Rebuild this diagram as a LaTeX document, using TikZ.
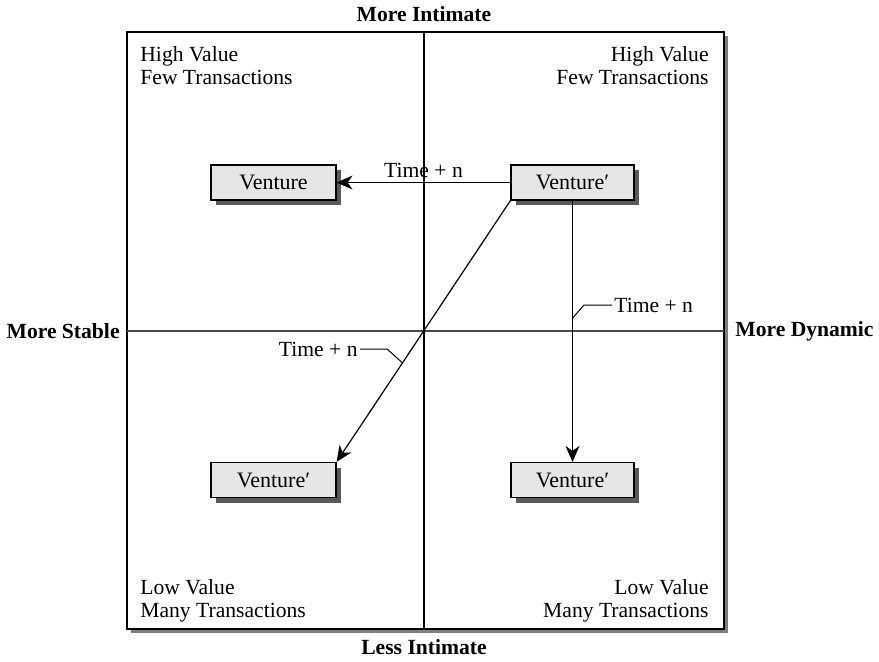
\documentclass[tikz,border=0pt]{standalone}
\usepackage{fontspec}
\setmainfont{Liberation Serif}
\usetikzlibrary{arrows.meta,calc,shadows}

\definecolor{boxfill}{HTML}{E6E6E6}
\definecolor{boxshadow}{HTML}{5A5A5A}
\definecolor{frameshadow}{HTML}{7F7F7F}
\definecolor{axisgray}{HTML}{4A4A4A}

\tikzset{
  venture/.style={draw=black, line width=0.6pt, fill=boxfill,
    minimum height=17.5pt, inner sep=0pt,
    font=\fontsize{11}{13}\selectfont,
    drop shadow={shadow xshift=2.5pt, shadow yshift=-2.5pt,
      fill=boxshadow, opacity=1}},
  axislabel/.style={font=\bfseries\fontsize{10.8}{13}\selectfont, inner sep=0pt},
  quadlabel/.style={font=\fontsize{10.8}{13}\selectfont, inner sep=0pt},
  timelabel/.style={font=\fontsize{10.8}{13}\selectfont, inner sep=1pt},
  flow/.style={line width=0.6pt, -{Stealth[length=8pt,width=7pt,inset=2.5pt]}},
  leader/.style={line width=0.5pt}
}

\begin{document}
\begin{tikzpicture}[x=0.5pt,y=-0.5pt]
  \useasboundingbox (0,0) rectangle (879,661);

  % framed plane with its shadow
  \fill[frameshadow] (131,36) rectangle (728,633);
  \draw[fill=white, line width=0.75pt] (127,32) rectangle (724,629);

  % axes
  \draw[axisgray, line width=1pt] (127,331) -- (724,331);
  \draw[black, line width=0.6pt] (424,32) -- (424,629);

  % axis captions
  \node[axislabel] (top) at (424,14) {More Intimate};
  \node[axislabel] (bottom) at (424,647) {Less Intimate};
  \node[axislabel, anchor=east] (left) at (120,331) {More Stable};
  \node[axislabel, anchor=west] (right) at (735,331) {More Dynamic};

  % quadrant captions
  \node[quadlabel, anchor=base west] (tl1) at (140,61) {High Value};
  \node[quadlabel, anchor=base west] (tl2) at (140,84) {Few Transactions};
  \node[quadlabel, anchor=base east] (tr1) at (709,61) {High Value};
  \node[quadlabel, anchor=base east] (tr2) at (709,84) {Few Transactions};
  \node[quadlabel, anchor=base west] (bl1) at (140,594) {Low Value};
  \node[quadlabel, anchor=base west] (bl2) at (140,617) {Many Transactions};
  \node[quadlabel, anchor=base east] (br1) at (709,594) {Low Value};
  \node[quadlabel, anchor=base east] (br2) at (709,617) {Many Transactions};

  % ventures
  \node[venture, minimum width=62.5pt] (v1) at (273.5,182.5) {Venture};
  \node[venture, minimum width=61.5pt] (v2) at (572.5,182.5) {Venture′};
  \node[venture, minimum width=62.5pt] (v3) at (273.5,480) {Venture′};
  \node[venture, minimum width=61.5pt] (v4) at (572.5,480) {Venture′};

  % moves over time
  \draw[flow] (v2.west) -- (v1.east)
    node[timelabel, pos=0.5, above=1pt] (t0) {Time + n};
  \draw[flow] (v2.south west) -- (v3.north east);
  \draw[flow] (v2.south) -- (v4.north);

  % leader-lined time captions
  \coordinate (p1) at ($(v2.south west)!0.621!(v3.north east)$);
  \coordinate (p2) at ($(v2.south)!0.45!(v4.north)$);
  \node[timelabel, anchor=east] (t1) at (360,349) {Time + n};
  \node[timelabel, anchor=west] (t2) at (612,305) {Time + n};
  \draw[leader] (t1.east) -- ++(27,0) -- (p1);
  \draw[leader] (t2.west) -- ++(-28,0) -- (p2);
\end{tikzpicture}
\end{document}
